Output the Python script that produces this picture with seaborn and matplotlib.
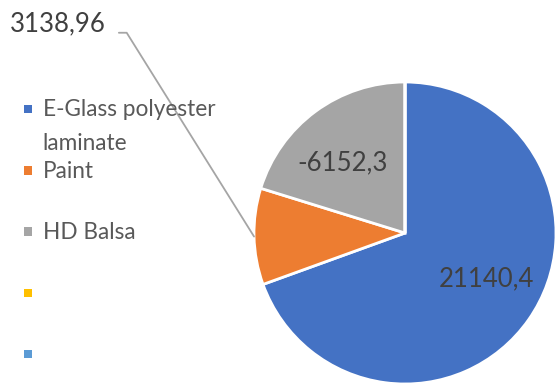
import numpy as np
import matplotlib
matplotlib.use("Agg")
import matplotlib.pyplot as plt
import seaborn as sns
from matplotlib.patches import Rectangle, Wedge
from matplotlib.legend_handler import HandlerPatch

# Material cost breakdown
categories = ["E-Glass polyester\nlaminate", "Paint", "HD Balsa", "", ""]
values = [21140.4, 3138.96, -6152.3, 0.0, 0.0]
colors = ["#4472C4", "#ED7D31", "#A5A5A5", "#FFC000", "#5B9BD5"]

sns.set_theme(style="white")
plt.rcParams["font.family"] = ["Lato", "DejaVu Sans"]

W, H = 557, 386
fig = plt.figure(figsize=(W / 100, H / 100), dpi=100)
fig.patch.set_facecolor("white")

# pie placement in pixels
R, cx, cy = 151, 405, 233
ax = fig.add_axes([(cx - R) / W, (H - cy - R) / H, 2 * R / W, 2 * R / H])

palette = sns.color_palette(colors)
sizes = np.abs(values)
wedges, _ = ax.pie(
    sizes, colors=palette, startangle=90, counterclock=False, radius=1,
    wedgeprops=dict(edgecolor="white", linewidth=2, clip_on=False),
)
ax.set_xlim(-1, 1)
ax.set_ylim(-1, 1)
ax.set_aspect("equal")
ax.axis("off")


def fmt(v):
    return str(v).replace(".", ",")


label_color = "#404040"
label_r, label_turn = 0.62, 5.5
for i, (w, v) in enumerate(zip(wedges, values)):
    if v == 0:
        continue
    mid_deg = (w.theta1 + w.theta2) / 2
    mid = np.deg2rad(mid_deg)
    if i == 1:
        ax.annotate(
            fmt(v), xy=(np.cos(mid), np.sin(mid)), xycoords="data",
            xytext=(10, H - 24), textcoords="figure pixels",
            ha="left", va="center", fontsize=18.5, color=label_color,
            annotation_clip=False,
            arrowprops=dict(arrowstyle="-", color="#A5A5A5", lw=1.3,
                            shrinkA=7, shrinkB=0, relpos=(1, 0.15),
                            connectionstyle="angle,angleA=0,angleB=122,rad=0"),
        )
    else:
        a = np.deg2rad(mid_deg + label_turn)
        ax.text(label_r * np.cos(a), label_r * np.sin(a), fmt(v), ha="center",
                va="center", fontsize=18.5, color=label_color)

# legend: every label spans two lines so rows share one height
legend_labels = [c if "\n" in c else c + "\n" for c in categories]
lift = 13.3


def small_square(legend, orig_handle, xdescent, ydescent, width, height, fontsize):
    s = 0.38 * fontsize
    return Rectangle((-xdescent + (width - s) / 2, -ydescent + (height - s) / 2 + lift), s, s)


leg = fig.legend(
    wedges, legend_labels, loc="upper left",
    bbox_to_anchor=(19 / W, 1 - 99.5 / H), frameon=False,
    fontsize=16.3, handlelength=0.8, handletextpad=0.25,
    borderpad=0, borderaxespad=0, labelspacing=0.28,
    handler_map={Wedge: HandlerPatch(patch_func=small_square)},
)
for h in leg.legend_handles:
    h.set_edgecolor("none")
    h.set_linewidth(0)
for t in leg.get_texts():
    t.set_linespacing(1.76)
    t.set_color("#595959")

fig.savefig("out.png", dpi=100, facecolor="white")
